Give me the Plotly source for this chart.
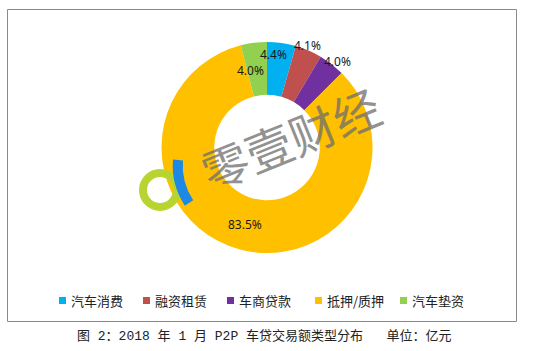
import math
import plotly.graph_objects as go

# ---- data ----
categories = ["汽车消费", "融资租赁", "车商贷款", "抵押/质押", "汽车垫资"]
shares = [4.4, 4.1, 4.0, 83.5, 4.0]
pct_labels = ["4.4%", "4.1%", "4.0%", "83.5%", "4.0%"]
colors = ["#00B0F0", "#C0504D", "#7030A0", "#FFC000", "#92D050"]
caption = "图 2：2018 年 1 月 P2P 车贷交易额类型分布   单位：亿元"
watermark = "零壹财经"

# ---- layout helpers (pixel -> paper) ----
W, H = 534, 351
def px(x):
    return x / W
def py(y):
    return 1 - y / H

cx, cy, R = 267, 147.5, 105.5
# label placement style: (angle tweak in degrees, radius factor)
label_style = [(-4.0, 0.88), (-1.4, 1.045), (1.5, 1.05), (0.8, 0.755), (-5.2, 0.75)]

fig = go.Figure()
fig.add_trace(go.Pie(
    labels=categories, values=shares, marker=dict(colors=colors, line=dict(width=0)),
    hole=0.5, sort=False, direction="clockwise", rotation=0,
    textinfo="none", hoverinfo="label+percent", showlegend=False,
    domain=dict(x=[px(cx - R), px(cx + R)], y=[py(cy + R), py(cy - R)]),
))

annotations = []
shapes = []

# percentage labels, placed from cumulative shares
total = sum(shares)
cum = 0.0
for v, lab, (dang, rf) in zip(shares, pct_labels, label_style):
    mid = (cum + v / 2) / total * 360 + dang
    cum += v
    r = R * rf
    lx = cx + r * math.sin(math.radians(mid))
    ly = cy - r * math.cos(math.radians(mid))
    annotations.append(dict(x=px(lx), y=py(ly), xref="paper", yref="paper", text=lab,
                            showarrow=False, xanchor="center", yanchor="middle",
                            font=dict(family="Noto Sans, DejaVu Sans", size=12, color="#1a1a1a")))

# watermark logo + text
shapes.append(dict(type="circle", xref="paper", yref="paper",
                   x0=px(160 - 17), x1=px(160 + 17), y0=py(190 + 17), y1=py(190 - 17),
                   line=dict(color="#B8D430", width=8), layer="above"))
shapes.append(dict(type="path", xref="paper", yref="paper",
                   path=f"M {px(178)},{py(160)} Q {px(176)},{py(183)} {px(189)},{py(203)}",
                   line=dict(color="#1E88E5", width=10), layer="above"))
annotations.append(dict(x=px(290), y=py(137), xref="paper", yref="paper", text=watermark,
                        showarrow=False, textangle=-22, xanchor="center", yanchor="middle",
                        font=dict(family="Noto Sans CJK SC", size=47, color="rgba(110,110,110,0.75)")))

# manual legend
legend_x = [59, 143, 227, 315, 400]
legend_y = 300.5
for name, col, lx in zip(categories, colors, legend_x):
    shapes.append(dict(type="rect", xref="paper", yref="paper",
                       x0=px(lx), x1=px(lx + 7), y0=py(legend_y + 3.5), y1=py(legend_y - 3.5),
                       fillcolor=col, line=dict(width=0)))
    annotations.append(dict(x=px(lx + 10), y=py(legend_y), xref="paper", yref="paper", text=name,
                            showarrow=False, xanchor="left", yanchor="middle",
                            font=dict(family="Noto Sans CJK SC", size=13, color="#222")))

# border
shapes.append(dict(type="rect", xref="paper", yref="paper",
                   x0=px(7.5), x1=px(516.5), y0=py(321.5), y1=py(9.5),
                   line=dict(color="#8a8a8a", width=1)))

# caption
annotations.append(dict(x=px(264), y=py(336), xref="paper", yref="paper", text=caption,
                        showarrow=False, xanchor="center", yanchor="middle",
                        font=dict(family="Liberation Mono, Noto Sans CJK SC", size=13, color="#222")))

fig.update_layout(
    width=W, height=H, margin=dict(l=0, r=0, t=0, b=0),
    paper_bgcolor="white", plot_bgcolor="white",
    annotations=annotations, shapes=shapes, showlegend=False,
)
fig.write_html("out.html")
